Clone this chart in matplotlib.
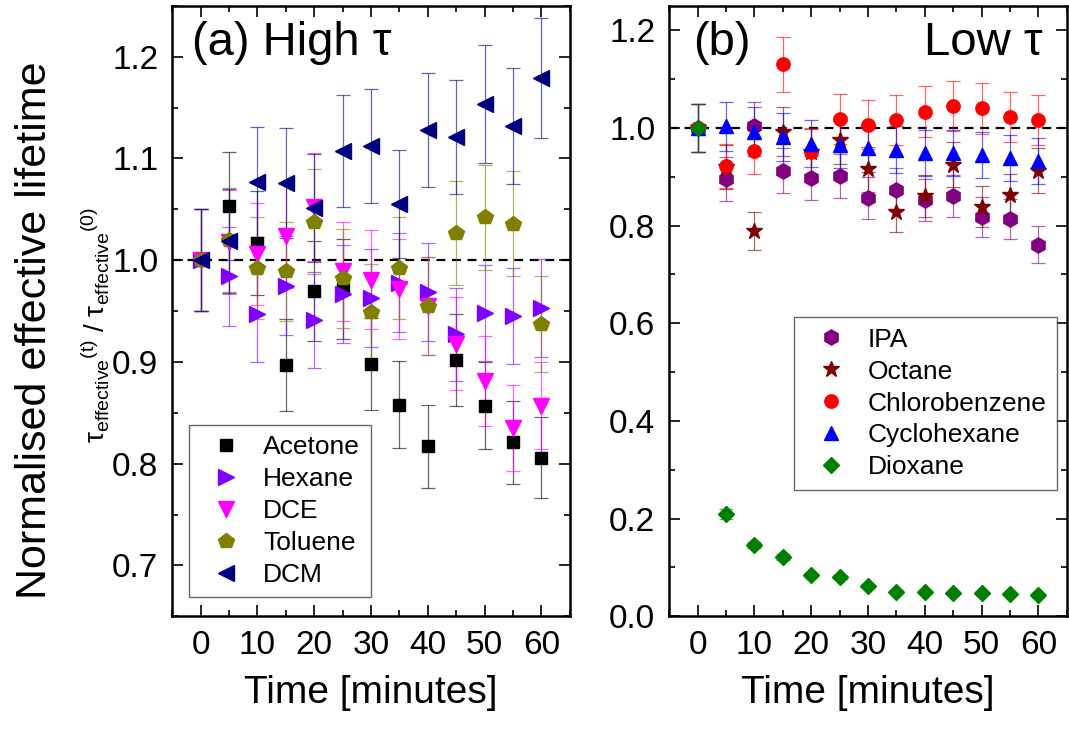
import matplotlib
matplotlib.use('Agg')
import matplotlib.pyplot as plt
import numpy as np
from matplotlib.ticker import MultipleLocator, FormatStrFormatter

plt.rcParams['font.family'] = ['Liberation Sans', 'DejaVu Sans']
plt.rcParams['mathtext.fontset'] = 'custom'
plt.rcParams['mathtext.rm'] = 'Liberation Sans'
plt.rcParams['mathtext.it'] = 'Liberation Sans:italic'

# time points (minutes)
time = [0, 5, 10, 15, 20, 25, 30, 35, 40, 45, 50, 55, 60]

# (a) high lifetime samples
acetone = [1.0, 1.053, 1.017, 0.897, 0.970, 0.972, 0.898, 0.858, 0.817, 0.902, 0.857, 0.821, 0.806]
acetone_err = [0.050, 0.053, 0.051, 0.045, 0.049, 0.049, 0.045, 0.043, 0.041, 0.045, 0.043, 0.041, 0.040]
hexane = [1.0, 0.984, 0.947, 0.975, 0.941, 0.967, 0.963, 0.978, 0.969, 0.927, 0.948, 0.945, 0.953]
hexane_err = [0.050, 0.049, 0.047, 0.049, 0.047, 0.048, 0.048, 0.049, 0.048, 0.046, 0.047, 0.047, 0.048]
dce = [1.0, 1.018, 1.006, 1.024, 1.052, 0.989, 0.981, 0.972, 0.955, 0.918, 0.881, 0.835, 0.857]
dce_err = [0.050, 0.051, 0.050, 0.051, 0.053, 0.049, 0.049, 0.049, 0.048, 0.046, 0.044, 0.042, 0.043]
toluene = [1.0, 1.020, 0.992, 0.989, 1.038, 0.982, 0.949, 0.992, 0.955, 1.027, 1.042, 1.036, 0.937]
toluene_err = [0.050, 0.051, 0.050, 0.049, 0.052, 0.049, 0.047, 0.050, 0.048, 0.051, 0.052, 0.052, 0.047]
dcm = [1.0, 1.019, 1.077, 1.076, 1.051, 1.107, 1.112, 1.055, 1.128, 1.121, 1.154, 1.132, 1.179]
dcm_err = [0.050, 0.051, 0.054, 0.054, 0.053, 0.055, 0.056, 0.053, 0.056, 0.056, 0.058, 0.057, 0.059]

# (b) low lifetime samples
ipa = [1.0, 0.895, 1.004, 0.912, 0.897, 0.901, 0.856, 0.873, 0.852, 0.860, 0.817, 0.813, 0.761]
ipa_err = [0.050, 0.045, 0.050, 0.046, 0.045, 0.045, 0.043, 0.044, 0.043, 0.043, 0.041, 0.041, 0.038]
octane = [1.0, 0.920, 0.788, 0.992, 0.950, 0.975, 0.915, 0.827, 0.860, 0.925, 0.839, 0.862, 0.912]
octane_err = [0.050, 0.046, 0.039, 0.050, 0.048, 0.049, 0.046, 0.041, 0.043, 0.046, 0.042, 0.043, 0.046]
chlorobenzene = [1.0, 0.922, 0.953, 1.130, 0.951, 1.018, 1.007, 1.016, 1.033, 1.045, 1.040, 1.023, 1.016]
chlorobenzene_err = [0.050, 0.046, 0.048, 0.057, 0.048, 0.051, 0.050, 0.051, 0.052, 0.052, 0.052, 0.051, 0.051]
cyclohexane = [1.0, 1.003, 0.992, 0.982, 0.968, 0.966, 0.958, 0.955, 0.949, 0.948, 0.944, 0.939, 0.932]
cyclohexane_err = [0.050, 0.050, 0.050, 0.049, 0.048, 0.048, 0.048, 0.048, 0.047, 0.047, 0.047, 0.047, 0.047]
dioxane = [1.0, 0.209, 0.146, 0.122, 0.085, 0.080, 0.062, 0.050, 0.049, 0.048, 0.047, 0.046, 0.044]
dioxane_err = [0.050, 0.010, 0.007, 0.006, 0.004, 0.004, 0.003, 0.003, 0.002, 0.002, 0.002, 0.002, 0.002]

high_series = [
    ('Acetone', acetone, acetone_err, 's', '#000000', 9),
    ('Hexane', hexane, hexane_err, '>', '#8000FF', 12),
    ('DCE', dce, dce_err, 'v', '#FF00FF', 12),
    ('Toluene', toluene, toluene_err, 'p', '#808000', 11.5),
    ('DCM', dcm, dcm_err, '<', '#000080', 12),
]
low_series = [
    ('IPA', ipa, ipa_err, 'h', '#800080', 11),
    ('Octane', octane, octane_err, '*', '#800000', 12),
    ('Chlorobenzene', chlorobenzene, chlorobenzene_err, 'o', '#FF0000', 9.6),
    ('Cyclohexane', cyclohexane, cyclohexane_err, '^', '#0000FF', 10.5),
    ('Dioxane', dioxane, dioxane_err, 'D', '#008000', 8.6),
]

fig = plt.figure(figsize=(10.69, 7.31), dpi=100)
ax1 = fig.add_axes([0.161, 0.157, 0.372, 0.835])
ax2 = fig.add_axes([0.626, 0.157, 0.372, 0.835])


def draw_panel(ax, series):
    ax.axhline(1.0, color='black', lw=1.6, dashes=(4, 3), zorder=1)
    for name, vals, errs, mk, col, ms in series:
        ax.errorbar(time, vals, yerr=errs, fmt=mk, color=col, ms=ms, mec=col,
                    ecolor=col, elinewidth=0.9, capsize=5, capthick=0.9,
                    label=name, zorder=3)
    ax.set_xlim(-5, 65)
    ax.xaxis.set_major_locator(MultipleLocator(10))
    ax.xaxis.set_minor_locator(MultipleLocator(5))
    ax.tick_params(which='both', direction='in', top=True, right=True,
                   labelsize=24, width=1.2)
    ax.tick_params(which='major', length=8, pad=10)
    ax.tick_params(which='minor', length=4.5)
    for sp in ax.spines.values():
        sp.set_linewidth(1.8)
    ax.set_xlabel('Time [minutes]', fontsize=28, labelpad=10)
    # lighten the error bars a little
    for cont in ax.containers:
        for lc in cont[2]:
            lc.set_alpha(0.6)
        for cap in cont[1]:
            cap.set_alpha(0.6)


draw_panel(ax1, high_series)
ax1.set_ylim(0.65, 1.25)
ax1.yaxis.set_major_locator(MultipleLocator(0.1))
ax1.yaxis.set_minor_locator(MultipleLocator(0.05))
ax1.yaxis.set_major_formatter(FormatStrFormatter('%.1f'))
ax1.text(0.05, 0.975, '(a) High τ', transform=ax1.transAxes, fontsize=34,
         ha='left', va='top')

draw_panel(ax2, low_series)
ax2.set_ylim(0.0, 1.25)
ax2.yaxis.set_major_locator(MultipleLocator(0.2))
ax2.yaxis.set_minor_locator(MultipleLocator(0.1))
ax2.yaxis.set_major_formatter(FormatStrFormatter('%.1f'))
ax2.text(0.06, 0.975, '(b)', transform=ax2.transAxes, fontsize=34,
         ha='left', va='top')
ax2.text(0.94, 0.975, 'Low τ', transform=ax2.transAxes, fontsize=34,
         ha='right', va='top')

leg_kw = dict(fontsize=19, frameon=True, fancybox=False, numpoints=1,
              borderpad=0.4, handlelength=2.0, handletextpad=0.4,
              labelspacing=0.3, borderaxespad=0)
h, l = ax1.get_legend_handles_labels()
leg1 = ax1.legend([x[0] for x in h], l, loc='lower left',
                  bbox_to_anchor=(0.043, 0.031), **leg_kw)
h, l = ax2.get_legend_handles_labels()
leg2 = ax2.legend([x[0] for x in h], l, loc='upper left',
                  bbox_to_anchor=(0.314, 0.490), **leg_kw)
for leg in (leg1, leg2):
    leg.get_frame().set_edgecolor('#444444')
    leg.get_frame().set_linewidth(1.0)

fig.text(0.033, 0.548, 'Normalised effective lifetime', rotation=90,
         fontsize=31, ha='center', va='center')
fig.text(0.088, 0.556,
         r'$\mathrm{τ}_{\mathrm{effective}}{}^{\mathrm{(t)}}$ / $\mathrm{τ}_{\mathrm{effective}}{}^{\mathrm{(0)}}$',
         rotation=90, fontsize=20, ha='center', va='center')

fig.savefig('out.png', dpi=100)
